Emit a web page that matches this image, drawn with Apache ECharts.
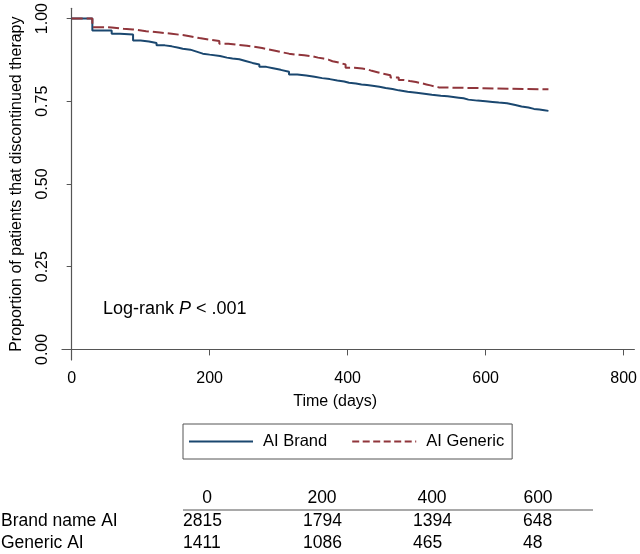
<!DOCTYPE html>
<html>
<head>
<meta charset="utf-8">
<script src="https://cdn.jsdelivr.net/npm/echarts@6/dist/echarts.min.js"></script>
<style>
html,body{margin:0;padding:0;background:#fff;}
#chart{width:640px;height:554px;}
</style>
</head>
<body>
<div id="chart"></div>
<script>
// ---- Data ----
const xTicks = [0, 200, 400, 600, 800];
const yTicks = [0, 0.25, 0.5, 0.75, 1];

const brandTimes = [0, 30, 58, 70, 89, 100, 112, 123, 135, 145, 155, 161, 172, 181, 190, 200, 215, 225, 233, 243, 252, 262, 272, 282, 292, 303, 315, 327, 340, 352, 363, 374, 385, 395, 402, 412, 420, 428, 436, 446, 455, 465, 474, 487, 500, 511, 522, 535, 545, 553, 561, 568, 575, 588, 600, 610, 619, 631, 643, 652, 662, 670, 678, 685, 691];
const brandSurv  = [1.000, 0.964, 0.954, 0.952, 0.934, 0.931, 0.926, 0.919, 0.916, 0.912, 0.909, 0.906, 0.900, 0.894, 0.891, 0.887, 0.882, 0.879, 0.877, 0.872, 0.866, 0.861, 0.854, 0.850, 0.845, 0.839, 0.831, 0.828, 0.824, 0.820, 0.817, 0.813, 0.810, 0.806, 0.804, 0.801, 0.799, 0.797, 0.794, 0.790, 0.787, 0.783, 0.779, 0.776, 0.773, 0.770, 0.767, 0.765, 0.763, 0.761, 0.759, 0.755, 0.752, 0.750, 0.748, 0.746, 0.744, 0.739, 0.734, 0.731, 0.727, 0.725, 0.723, 0.721, 0.719];

const genericTimes = [0, 30, 45, 58, 75, 89, 108, 128, 145, 161, 173, 185, 200, 214, 227, 240, 254, 267, 276, 285, 295, 305, 315, 325, 337, 349, 357, 365, 372, 378, 388, 397, 410, 421, 428, 435, 443, 450, 462, 474, 482, 490, 499, 508, 514, 520, 526, 532, 691];
const genericSurv  = [1.000, 0.974, 0.973, 0.969, 0.967, 0.962, 0.958, 0.954, 0.950, 0.946, 0.941, 0.936, 0.932, 0.924, 0.921, 0.918, 0.914, 0.911, 0.907, 0.903, 0.898, 0.894, 0.891, 0.889, 0.886, 0.882, 0.879, 0.876, 0.871, 0.867, 0.861, 0.851, 0.849, 0.847, 0.842, 0.838, 0.834, 0.829, 0.822, 0.814, 0.811, 0.808, 0.804, 0.801, 0.798, 0.795, 0.792, 0.786, 0.786];

const seriesNames = ['AI Brand', 'AI Generic'];
const tableHeader = ['0', '200', '400', '600'];
const tableRowLabels = ['Brand name AI', 'Generic AI'];
const tableBrand = ['2815', '1794', '1394', '648'];
const tableGeneric = ['1411', '1086', '465', '48'];

// ---- Styling ----
const FONT = '"Liberation Sans", Arial, Helvetica, sans-serif';
const NAVY = '#1a476f';
const MAROON = '#90353b';
const AXIS = '#555555';

const zip = (a, b) => a.map((v, i) => [v, b[i]]);

const headerX = [207, 322, 432, 538];
const colX = [183, 303, 413, 523];

const graphics = [];
// Log-rank annotation
graphics.push({
  type: 'text', left: 103, top: 300,
  style: {
    text: '{n|Log-rank }{i|P}{n| < .001}',
    rich: {
      n: { fontFamily: FONT, fontSize: 18, fill: '#000' },
      i: { fontFamily: FONT, fontSize: 18, fontStyle: 'italic', fill: '#000' }
    }
  }
});
// Risk table header
tableHeader.forEach((t, i) => {
  graphics.push({ type: 'text', x: headerX[i], y: 498,
    style: { text: t, fontFamily: FONT, fontSize: 17.5, fill: '#000', align: 'center', verticalAlign: 'middle' } });
});
graphics.push({ type: 'line', shape: { x1: 183, y1: 510, x2: 593, y2: 510 }, style: { stroke: AXIS, lineWidth: 1.2 } });
tableRowLabels.forEach((t, r) => {
  graphics.push({ type: 'text', x: 1, y: r === 0 ? 521.5 : 543,
    style: { text: t, fontFamily: FONT, fontSize: 17.5, fill: '#000', align: 'left', verticalAlign: 'middle' } });
});
[tableBrand, tableGeneric].forEach((row, r) => {
  row.forEach((t, i) => {
    graphics.push({ type: 'text', x: colX[i], y: r === 0 ? 521.5 : 543,
      style: { text: t, fontFamily: FONT, fontSize: 17.5, fill: '#000', align: 'left', verticalAlign: 'middle' } });
  });
});

const chart = echarts.init(document.getElementById('chart'), null, { renderer: 'canvas' });
chart.setOption({
  animation: false,
  backgroundColor: '#fff',
  textStyle: { fontFamily: FONT },
  grid: { left: 62, right: 4, top: 6, bottom: 194, containLabel: false },
  xAxis: {
    type: 'value', min: -14, max: 815.5,
    name: 'Time (days)', nameLocation: 'middle', nameGap: 34,
    nameTextStyle: { fontFamily: FONT, fontSize: 16, color: '#000', padding: [0, 26, 0, 0] },
    axisLine: { show: true, lineStyle: { color: AXIS, width: 1.2 } },
    axisTick: { show: true, length: 6, lineStyle: { color: AXIS }, customValues: xTicks },
    axisLabel: { fontFamily: FONT, fontSize: 16, color: '#000', margin: 11, customValues: xTicks },
    splitLine: { show: false }
  },
  yAxis: {
    type: 'value', min: -0.032, max: 1.031,
    name: 'Proportion of patients that discontinued therapy', nameLocation: 'middle', nameGap: 37,
    nameTextStyle: { fontFamily: FONT, fontSize: 16, color: '#000' },
    axisLine: { show: true, lineStyle: { color: AXIS, width: 1.2 } },
    axisTick: { show: true, length: 5, lineStyle: { color: AXIS }, customValues: yTicks },
    axisLabel: { fontFamily: FONT, fontSize: 16, color: '#000', rotate: 90, margin: 11,
      customValues: yTicks, formatter: v => v.toFixed(2) },
    splitLine: { show: false }
  },
  legend: {
    left: 183, top: 424,
    padding: [9, 8, 9, 5],
    itemWidth: 64, itemHeight: 14, itemGap: 24,
    borderColor: AXIS, borderWidth: 1,
    itemStyle: { opacity: 0 },
    textStyle: { fontFamily: FONT, fontSize: 16.5, color: '#000', padding: [0, 0, 0, 5] },
    data: [
      { name: seriesNames[0] },
      { name: seriesNames[1], lineStyle: { type: [7, 3.5] } }
    ]
  },
  series: [
    {
      name: seriesNames[0], type: 'line', step: 'end', symbol: 'none',
      data: zip(brandTimes, brandSurv),
      lineStyle: { color: NAVY, width: 2 }, itemStyle: { color: NAVY }
    },
    {
      name: seriesNames[1], type: 'line', step: 'end', symbol: 'none',
      data: zip(genericTimes, genericSurv),
      lineStyle: { color: MAROON, width: 2, type: [11, 4] }, itemStyle: { color: MAROON }
    }
  ],
  graphic: graphics
});
</script>
</body>
</html>
